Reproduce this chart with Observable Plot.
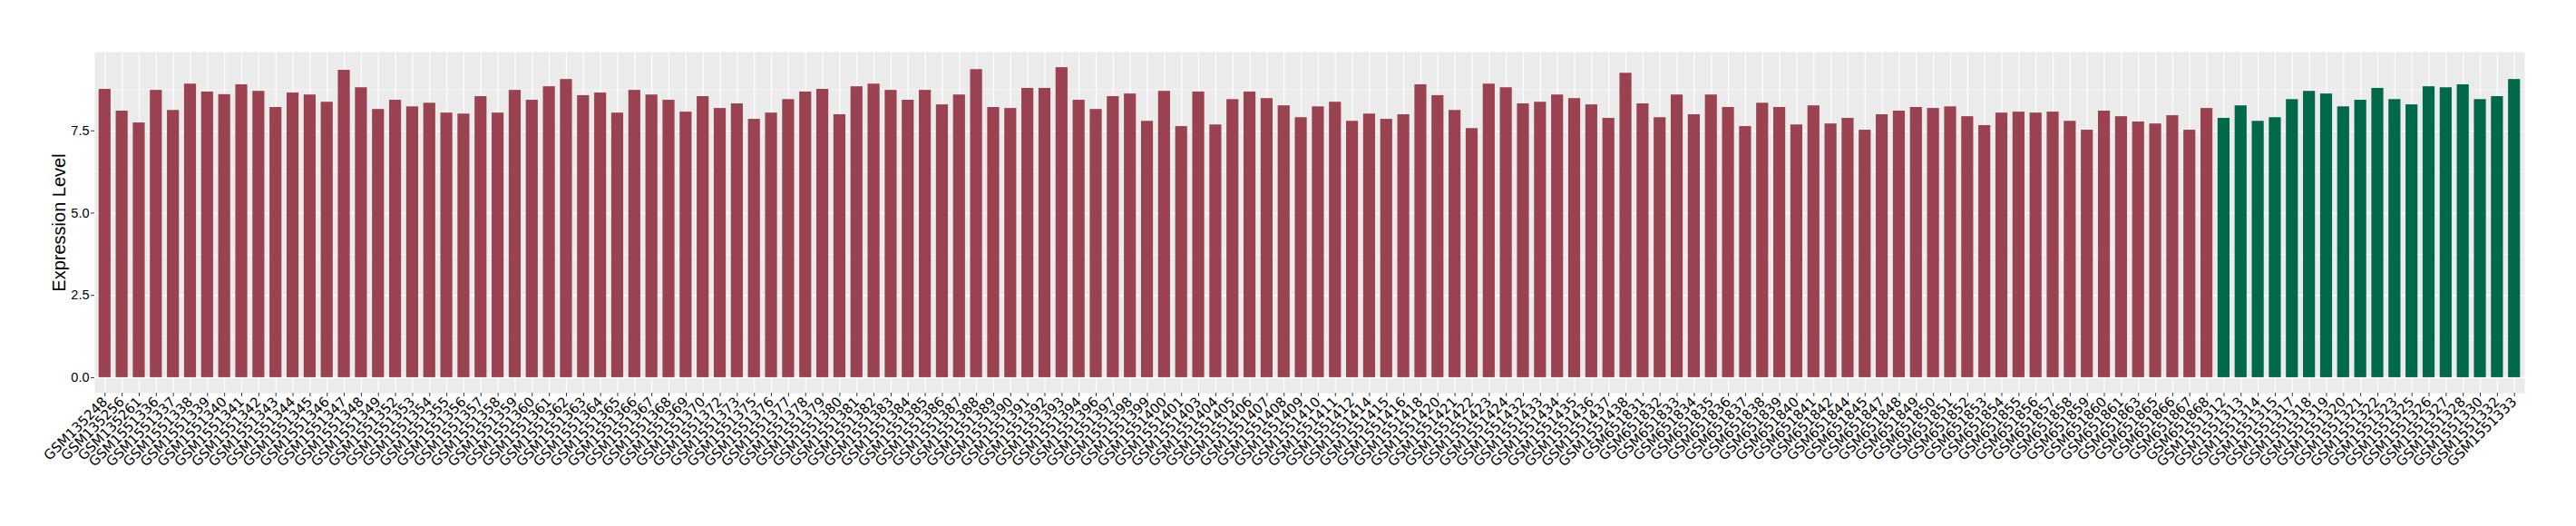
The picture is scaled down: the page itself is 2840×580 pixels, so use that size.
<!DOCTYPE html>
<html><head><meta charset="utf-8">
<script src="https://cdn.jsdelivr.net/npm/d3@7"></script>
<script src="https://cdn.jsdelivr.net/npm/@observablehq/plot@0.6"></script>
<style>html,body{margin:0;padding:0;background:#fff} svg{display:block}</style>
</head><body><div id="chart"></div>
<script>
const groupASamples = [
"GSM135248","GSM135256","GSM135261",
"GSM1551336","GSM1551337","GSM1551338","GSM1551339","GSM1551340","GSM1551341","GSM1551342","GSM1551343","GSM1551344","GSM1551345","GSM1551346","GSM1551347","GSM1551348","GSM1551349",
"GSM1551352","GSM1551353","GSM1551354","GSM1551355","GSM1551356","GSM1551357","GSM1551358","GSM1551359","GSM1551360","GSM1551361","GSM1551362","GSM1551363","GSM1551364","GSM1551365","GSM1551366","GSM1551367","GSM1551368","GSM1551369","GSM1551370",
"GSM1551372","GSM1551373",
"GSM1551375","GSM1551376","GSM1551377","GSM1551378","GSM1551379","GSM1551380","GSM1551381","GSM1551382","GSM1551383","GSM1551384","GSM1551385","GSM1551386","GSM1551387","GSM1551388","GSM1551389","GSM1551390","GSM1551391","GSM1551392","GSM1551393","GSM1551394",
"GSM1551396","GSM1551397","GSM1551398","GSM1551399","GSM1551400","GSM1551401",
"GSM1551403","GSM1551404","GSM1551405","GSM1551406","GSM1551407","GSM1551408","GSM1551409","GSM1551410","GSM1551411","GSM1551412",
"GSM1551414","GSM1551415","GSM1551416","GSM1551418","GSM1551420","GSM1551421","GSM1551422","GSM1551423","GSM1551424",
"GSM1551432","GSM1551433","GSM1551434","GSM1551435","GSM1551436","GSM1551437","GSM1551438",
"GSM651831","GSM651832","GSM651833","GSM651834","GSM651835","GSM651836","GSM651837","GSM651838","GSM651839","GSM651840","GSM651841","GSM651842",
"GSM651844","GSM651845",
"GSM651847","GSM651848","GSM651849","GSM651850","GSM651851","GSM651852","GSM651853","GSM651854","GSM651855","GSM651856","GSM651857","GSM651858","GSM651859","GSM651860","GSM651861",
"GSM651863","GSM651865","GSM651866","GSM651867","GSM651868"
];
const groupAValues = [
8.76,8.10,7.74,
8.73,8.12,8.92,8.68,8.60,8.90,8.70,8.21,8.65,8.59,8.37,9.34,8.81,8.15,
8.43,8.23,8.34,8.04,8.01,8.54,8.04,8.73,8.43,8.84,9.06,8.57,8.65,8.04,8.73,8.59,8.43,8.07,8.54,
8.18,8.32,
7.85,8.04,8.45,8.68,8.76,7.99,8.84,8.92,8.73,8.43,8.73,8.29,8.59,9.36,8.21,8.18,8.79,8.79,9.42,8.43,
8.15,8.54,8.62,7.79,8.70,7.63,
8.68,7.68,8.45,8.68,8.48,8.26,7.90,8.23,8.37,7.79,
8.01,7.85,7.99,8.90,8.57,8.12,7.57,8.92,8.81,
8.32,8.37,8.59,8.48,8.29,7.88,9.25,
8.32,7.90,8.59,7.99,8.59,8.21,7.63,8.34,8.21,7.68,8.26,7.71,
7.88,7.52,
7.99,8.10,8.21,8.18,8.23,7.93,7.66,8.04,8.07,8.04,8.07,7.79,7.52,8.10,7.93,
7.77,7.71,7.96,7.52,8.18
];
const groupBSamples = [
"GSM1551312","GSM1551313","GSM1551314","GSM1551315","GSM1551317","GSM1551318","GSM1551319","GSM1551320","GSM1551321","GSM1551322","GSM1551323","GSM1551325","GSM1551326","GSM1551327","GSM1551328","GSM1551330","GSM1551332","GSM1551333"
];
const groupBValues = [
7.88,8.26,7.79,7.90,8.45,8.70,8.62,8.23,8.43,8.79,8.45,8.29,8.84,8.81,8.90,8.45,8.54,9.06
];
const groupNames = ["A", "B"];
const groupColors = ["#9B4251", "#00694A"];
const yTicksMajor = [0, 2.5, 5, 7.5];
const yTicksMinor = [1.25, 3.75, 6.25, 8.75];
const yTitle = "Expression Level";

const data = [
  ...groupASamples.map((s, i) => ({sample: s, value: groupAValues[i], group: groupNames[0]})),
  ...groupBSamples.map((s, i) => ({sample: s, value: groupBValues[i], group: groupNames[1]}))
];
const ymax = d3.max(data, d => d.value);

const chart = Plot.plot({
  width: 2840,
  height: 580,
  marginLeft: 104,
  marginRight: 57,
  marginTop: 57,
  marginBottom: 147,
  style: {fontFamily: "'Liberation Sans', Arial, sans-serif", fontSize: "14.5px", color: "#000", background: "#fff", overflow: "visible"},
  x: {domain: data.map(d => d.sample), paddingInner: 0.3, paddingOuter: 0.25, label: null},
  y: {domain: [-0.05 * ymax, 1.05 * ymax], label: null},
  color: {domain: groupNames, range: groupColors},
  marks: [
    Plot.frame({fill: "#EBEBEB", stroke: null}),
    Plot.gridY(yTicksMinor, {stroke: "#fff", strokeOpacity: 1, strokeWidth: 0.6}),
    Plot.gridY(yTicksMajor, {stroke: "#fff", strokeOpacity: 1, strokeWidth: 1.2}),
    Plot.gridX({stroke: "#fff", strokeOpacity: 1, strokeWidth: 1.2}),
    Plot.barY(data, {x: "sample", y: "value", fill: "group"}),
    Plot.axisX({tickRotate: -45, tickSize: 4, tickPadding: 3, stroke: "#333", fill: "#000", fontSize: 15, fontFamily: "'DejaVu Sans', sans-serif", label: null}),
    Plot.axisY(yTicksMajor, {tickFormat: d3.format(".1f"), tickSize: 4, tickPadding: 2, stroke: "#333", fill: "#000", label: null}),
    Plot.axisY({ticks: [], tickSize: 0, label: yTitle, labelAnchor: "center", labelArrow: false, labelOffset: 47, fontSize: 20, fill: "#000"})
  ]
});
document.getElementById("chart").appendChild(chart);
</script>
</body></html>
